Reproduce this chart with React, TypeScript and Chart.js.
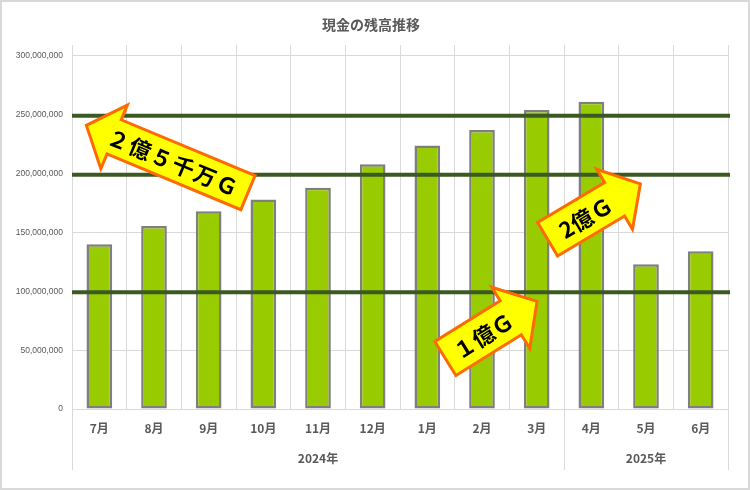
import React, { useEffect, useRef } from "react";
import { Chart, registerables } from "chart.js";

Chart.register(...registerables);

// ---- data ----
const chartTitle = "現金の残高推移";
const months = ["7月", "8月", "9月", "10月", "11月", "12月", "1月", "2月", "3月", "4月", "5月", "6月"];
const cashBalance = [
  140000000, 155600000, 168000000, 178000000, 188000000, 208000000,
  224000000, 237000000, 254000000, 261000000, 123000000, 134000000,
];
const years = ["2024年", "2025年"];
const monthsPerYear = [9, 3];
const yAxisMax = 309300000;
const yTickValues = [0, 50000000, 100000000, 150000000, 200000000, 250000000, 300000000];
const referenceLevels = [250000000, 200000000, 100000000];
const arrowLabels = ["２億５千万Ｇ", "2億Ｇ", "１億Ｇ"];

// ---- annotation geometry (tip anchored to scale values) ----
const arrowShapes = [
  { tipIndex: -0.262, tipValue: 241500000, angle: -157.4, length: 178, bodyW: 40, headW: 72, headL: 30, textAt: 0.46, font: 22, spacing: 1.5 },
  { tipIndex: 9.92, tipValue: 191900000, angle: -30.8, length: 111, bodyW: 42, headW: 73, headL: 30, textAt: 0.41, font: 22, spacing: 0.5 },
  { tipIndex: 8.03, tipValue: 92100000, angle: -31.9, length: 111, bodyW: 43, headW: 75, headL: 31, textAt: 0.41, font: 22, spacing: 0 },
];

const CJK = '"Noto Sans CJK JP", "Noto Sans", sans-serif';
const GRID = "#d9d9d9";
const TEXT = "#595959";

function drawArrow(ctx: CanvasRenderingContext2D, x: number, y: number, a: any, label: string) {
  const ang = (a.angle * Math.PI) / 180;
  const b = 3;
  const L = a.length - b;
  const bw = a.bodyW - b;
  const hw = a.headW - b;
  const hl = a.headL;
  ctx.save();
  ctx.translate(x, y);
  ctx.rotate(ang);
  ctx.translate(-b / 2, 0);
  ctx.beginPath();
  ctx.moveTo(0, 0);
  ctx.lineTo(-hl, -hw / 2);
  ctx.lineTo(-hl, -bw / 2);
  ctx.lineTo(-L, -bw / 2);
  ctx.lineTo(-L, bw / 2);
  ctx.lineTo(-hl, bw / 2);
  ctx.lineTo(-hl, hw / 2);
  ctx.closePath();
  ctx.fillStyle = "#ffff00";
  ctx.fill();
  ctx.lineWidth = b;
  ctx.lineJoin = "miter";
  ctx.strokeStyle = "#ff6a00";
  ctx.stroke();
  // text
  ctx.translate(-L + a.textAt * L, 0);
  if (Math.cos(ang) < 0) ctx.rotate(Math.PI);
  ctx.fillStyle = "#000000";
  ctx.font = `bold ${a.font}px ${CJK}`;
  try {
    (ctx as any).letterSpacing = `${a.spacing}px`;
  } catch (e) {}
  ctx.textAlign = "center";
  ctx.textBaseline = "middle";
  ctx.fillText(label, 0, 1);
  ctx.restore();
}

const overlayPlugin = {
  id: "overlay",
  beforeDraw(chart: any) {
    const ctx = chart.ctx;
    ctx.save();
    ctx.fillStyle = "#ffffff";
    ctx.fillRect(0, 0, chart.width, chart.height);
    ctx.restore();
  },
  afterDatasetsDraw(chart: any) {
    const ctx = chart.ctx;
    const xs = chart.scales.x;
    const ys = chart.scales.y;
    const area = chart.chartArea;
    ctx.save();
    ctx.strokeStyle = "#3b5a22";
    ctx.lineWidth = 4;
    referenceLevels.forEach((v) => {
      const py = ys.getPixelForValue(v) + 1;
      ctx.beginPath();
      ctx.moveTo(area.left, py);
      ctx.lineTo(area.right + 2, py);
      ctx.stroke();
    });
    ctx.restore();
    arrowShapes.forEach((a, i) => {
      drawArrow(ctx, xs.getPixelForValue(a.tipIndex), ys.getPixelForValue(a.tipValue), a, arrowLabels[i]);
    });
  },
  afterDraw(chart: any) {
    const ctx = chart.ctx;
    const xs = chart.scales.x;
    const area = chart.chartArea;
    ctx.save();
    // title
    ctx.fillStyle = TEXT;
    ctx.font = `bold 14px ${CJK}`;
    ctx.textAlign = "center";
    ctx.textBaseline = "middle";
    ctx.fillText(chartTitle, 371, 25);
    // year separators and labels
    let start = 0;
    const bounds: number[] = [xs.getPixelForValue(-0.5)];
    monthsPerYear.forEach((n) => {
      start += n;
      bounds.push(xs.getPixelForValue(start - 0.5));
    });
    ctx.strokeStyle = GRID;
    ctx.lineWidth = 1;
    bounds.forEach((bx) => {
      const px = Math.round(bx) + 0.5;
      ctx.beginPath();
      ctx.moveTo(px, area.bottom);
      ctx.lineTo(px, 470);
      ctx.stroke();
    });
    ctx.font = `bold 12px ${CJK}`;
    ctx.fillStyle = TEXT;
    years.forEach((yl, i) => {
      ctx.fillText(yl, (bounds[i] + bounds[i + 1]) / 2, 458);
    });
    // outer border
    ctx.strokeStyle = GRID;
    ctx.lineWidth = 2;
    ctx.strokeRect(1, 1, chart.width - 2, chart.height - 2);
    ctx.restore();
  },
};

export default function App() {
  const ref = useRef<HTMLCanvasElement | null>(null);
  useEffect(() => {
    if (!ref.current) return;
    const chart = new Chart(ref.current, {
      type: "bar",
      data: {
        labels: months,
        datasets: [
          {
            label: "現金",
            data: cashBalance,
            backgroundColor: "#99cc00",
            borderColor: "#7f7f7f",
            borderWidth: 2.5,
            borderSkipped: false,
            categoryPercentage: 1,
            barPercentage: 0.47,
          },
        ],
      },
      options: {
        responsive: false,
        animation: false,
        devicePixelRatio: 1,
        layout: { padding: { top: 45, right: 22, bottom: 0, left: 0 } },
        plugins: { legend: { display: false }, title: { display: false }, tooltip: { enabled: false } },
        scales: {
          x: {
            offset: true,
            grid: { color: GRID, lineWidth: 1, drawTicks: false, offset: true },
            border: { color: GRID },
            ticks: {
              color: TEXT,
              padding: 12,
              font: { family: CJK, size: 12, weight: "bold" },
              maxRotation: 0,
              autoSkip: false,
            },
            afterFit: (s: any) => {
              s.height = 81;
            },
          },
          y: {
            min: 0,
            max: yAxisMax,
            grid: { color: GRID, lineWidth: 1, drawTicks: false },
            border: { color: GRID },
            ticks: {
              color: TEXT,
              padding: 9,
              autoSkip: false,
              font: { family: '"Liberation Sans", sans-serif', size: 8.5 },
              callback: (v: any) => Number(v).toLocaleString("en-US"),
            },
            afterBuildTicks: (axis: any) => {
              axis.ticks = yTickValues.map((v) => ({ value: v }));
            },
            afterFit: (s: any) => {
              s.width = 72;
            },
          },
        },
      },
      plugins: [overlayPlugin],
    } as any);
    return () => chart.destroy();
  }, []);
  return (
    <div style={{ position: "fixed", left: 0, top: 0, width: 750, height: 490 }}>
      <canvas ref={ref} width={750} height={490} style={{ width: 750, height: 490, display: "block" }} />
    </div>
  );
}
